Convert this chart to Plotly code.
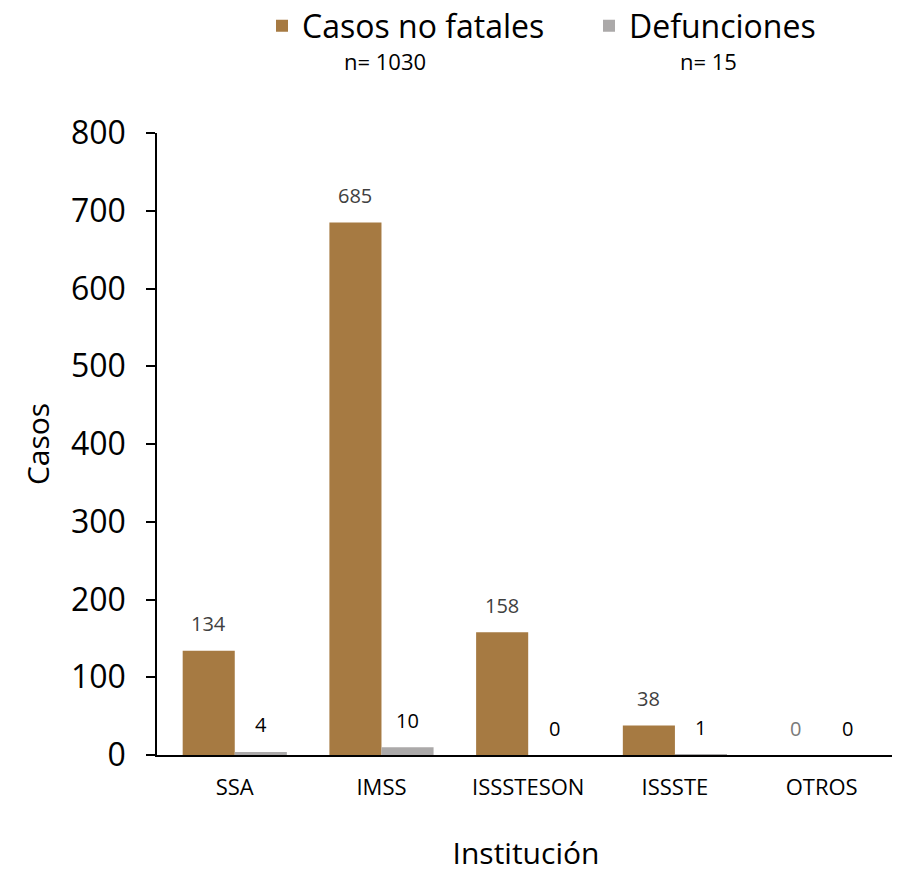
import plotly.graph_objects as go

categories = ["SSA", "IMSS", "ISSSTESON", "ISSSTE", "OTROS"]
no_fatales = [134, 685, 158, 38, 0]
defunciones = [4, 10, 0, 1, 0]
series_names = ["Casos no fatales", "Defunciones"]
totals = ["n= 1030", "n= 15"]
y_ticks = [0, 100, 200, 300, 400, 500, 600, 700, 800]

BROWN = "#A67A42"
GRAY = "#ABA9A9"
FONT = "Open Sans"
OFF = 8  # page body offset
W, H = 900 - OFF, 873 - OFF
ML, MR, MT, MB = 157 - OFF, 5, 133 - OFF, 873 - 755
PW, PH = W - ML - MR, H - MT - MB


def px_to_paper(xp, yp):
    # xp, yp in screenshot pixels
    return (xp - OFF - ML) / PW, (H - MB - (yp - OFF)) / PH


fig = go.Figure()
fig.add_trace(go.Bar(x=categories, y=no_fatales, name=series_names[0],
                     marker=dict(color=BROWN, line=dict(width=0))))
fig.add_trace(go.Bar(x=categories, y=defunciones, name=series_names[1],
                     marker=dict(color=GRAY, line=dict(width=0))))

annotations = []
brown_label_colors = ["#404040"] * 4 + ["#7a7a7a"]
for i, c in enumerate(categories):
    annotations.append(dict(x=c, y=no_fatales[i], xref="x", yref="y", text=str(no_fatales[i]),
                            showarrow=False, xshift=-26, yshift=27,
                            font=dict(family=FONT, size=20, color=brown_label_colors[i])))
    annotations.append(dict(x=c, y=defunciones[i], xref="x", yref="y", text=str(defunciones[i]),
                            showarrow=False, xshift=26, yshift=27,
                            font=dict(family=FONT, size=20, color="black")))

for txt, xp in zip(totals, [385, 708]):
    ax, ay = px_to_paper(xp, 61)
    annotations.append(dict(x=ax, y=ay, xref="paper", yref="paper", text=txt, showarrow=False,
                            xanchor="center", yanchor="middle",
                            font=dict(family=FONT, size=22, color="black")))

fig.update_layout(
    width=W, height=H,
    margin=dict(l=ML, r=MR, t=MT, b=MB),
    paper_bgcolor="white", plot_bgcolor="white",
    barmode="group", bargap=0.29, bargroupgap=0,
    font=dict(family=FONT, color="black"),
    showlegend=True,
    legend=dict(orientation="h", xref="container", yref="container",
                x=(262 - OFF) / W, xanchor="left", y=1 - (26 - OFF) / H, yanchor="middle",
                font=dict(family=FONT, size=32, color="black"),
                itemwidth=30, entrywidth=282, entrywidthmode="pixels", traceorder="normal"),
    xaxis=dict(range=[-0.53, 4.5], showline=True, linecolor="black", linewidth=1.5, ticks="",
               tickfont=dict(family=FONT, size=22, color="black"),
               ticklabelstandoff=12, automargin=False,
               title=dict(text="Institución", font=dict(family=FONT, size=30, color="black"), standoff=50),
               showgrid=False, fixedrange=True),
    yaxis=dict(range=[0, 800], tickvals=y_ticks, showline=True, linecolor="black", linewidth=1.5,
               ticks="outside", ticklen=9, tickcolor="black", tickwidth=1.5,
               tickfont=dict(family=FONT, size=32, color="black"),
               ticklabelstandoff=14, automargin=False,
               title=dict(text="Casos", font=dict(family=FONT, size=30, color="black"), standoff=12),
               showgrid=False, zeroline=False, fixedrange=True),
    annotations=annotations,
)

fig.write_html("out.html")
